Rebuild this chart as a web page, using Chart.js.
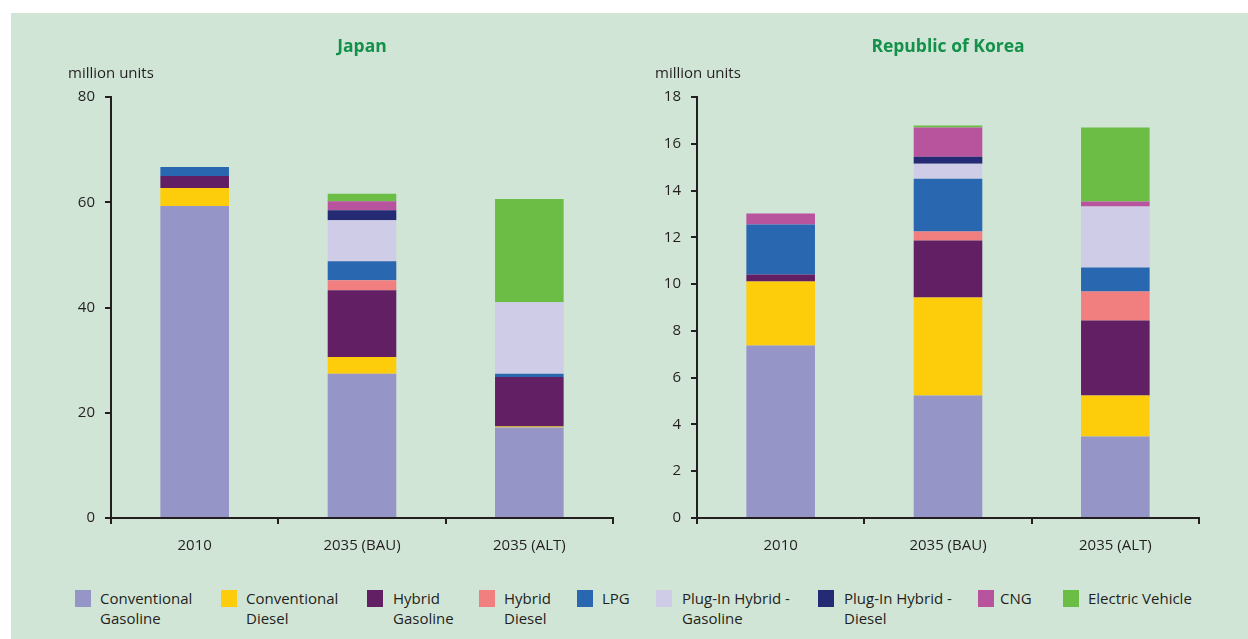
<!DOCTYPE html>
<html>
<head>
<meta charset="utf-8">
<script src="https://cdn.jsdelivr.net/npm/chart.js@4.4.1/dist/chart.umd.min.js"></script>
<style>
  html, body { margin: 0; padding: 0; background: #ffffff; }
  body { width: 1248px; height: 639px; position: relative; overflow: hidden; font-family: 'Open Sans', sans-serif; }
  #panel { position: absolute; left: 11px; top: 13px; right: 0; bottom: 0; background: #d1e5d7; }
  canvas { position: absolute; }
  .title { position: absolute; top: 33px; font-weight: bold; font-size: 17.5px; color: #13914a; text-align: center; width: 300px; line-height: 24px; }
  .unit { position: absolute; top: 62px; font-size: 15px; color: #231f20; line-height: 20px; }
  .lg-sw { position: absolute; top: 590px; width: 16px; height: 17px; }
  .lg-tx { position: absolute; top: 588px; font-size: 15px; line-height: 20px; color: #231f20; white-space: nowrap; }
</style>
</head>
<body>
<div id="panel"></div>
<canvas id="cJapan" width="620" height="560" style="left:11px;top:13px;width:620px;height:560px"></canvas>
<canvas id="cKorea" width="605" height="560" style="left:635px;top:13px;width:605px;height:560px"></canvas>
<div class="title" style="left:212px">Japan</div>
<div class="title" style="left:798px">Republic of Korea</div>
<div class="unit" style="left:68px">million units</div>
<div class="unit" style="left:655px">million units</div>
<div id="legend"></div>
<script>
// ---- Data ----
const categories = ['2010', '2035 (BAU)', '2035 (ALT)'];
const seriesNames = ['Conventional\nGasoline', 'Conventional\nDiesel', 'Hybrid\nGasoline', 'Hybrid\nDiesel', 'LPG', 'Plug-In Hybrid -\nGasoline', 'Plug-In Hybrid -\nDiesel', 'CNG', 'Electric Vehicle'];
const seriesColors = ['#9595c8', '#fdcc0a', '#621f63', '#f27f80', '#2a67b1', '#cecce7', '#252a74', '#b8539d', '#6cbd45'];

// Japan (million units)
const japanConvGasoline = [59.3, 27.4, 17.2];
const japanConvDiesel   = [3.4, 3.2, 0.2];
const japanHybridGas    = [2.3, 12.7, 9.4];
const japanHybridDiesel = [0, 1.9, 0];
const japanLPG          = [1.7, 3.6, 0.6];
const japanPHEVGas      = [0, 7.8, 13.6];
const japanPHEVDiesel   = [0, 1.9, 0];
const japanCNG          = [0, 1.7, 0];
const japanEV           = [0, 1.4, 19.6];

// Republic of Korea (million units)
const koreaConvGasoline = [7.37, 5.24, 3.48];
const koreaConvDiesel   = [2.74, 4.19, 1.76];
const koreaHybridGas    = [0.30, 2.43, 3.20];
const koreaHybridDiesel = [0, 0.39, 1.24];
const koreaLPG          = [2.14, 2.26, 1.03];
const koreaPHEVGas      = [0, 0.64, 2.61];
const koreaPHEVDiesel   = [0, 0.30, 0];
const koreaCNG          = [0.47, 1.25, 0.21];
const koreaEV           = [0, 0.08, 3.17];

const japanTicks = [0, 20, 40, 60, 80];
const koreaTicks = [0, 2, 4, 6, 8, 10, 12, 14, 16, 18];

const japanSeries = [japanConvGasoline, japanConvDiesel, japanHybridGas, japanHybridDiesel, japanLPG, japanPHEVGas, japanPHEVDiesel, japanCNG, japanEV];
const koreaSeries = [koreaConvGasoline, koreaConvDiesel, koreaHybridGas, koreaHybridDiesel, koreaLPG, koreaPHEVGas, koreaPHEVDiesel, koreaCNG, koreaEV];

// ---- Legend (HTML text) ----
const legendSwatchX = [75, 221, 367, 479, 577, 656, 818, 978, 1063];
const legendTextX   = [100, 246, 393, 504, 602, 682, 844, 1000, 1088];
const lg = document.getElementById('legend');
seriesNames.forEach((name, i) => {
  const sw = document.createElement('div');
  sw.className = 'lg-sw';
  sw.style.left = legendSwatchX[i] + 'px';
  sw.style.background = seriesColors[i];
  lg.appendChild(sw);
  const tx = document.createElement('div');
  tx.className = 'lg-tx';
  tx.style.left = legendTextX[i] + 'px';
  tx.innerHTML = name.split('\n').join('<br>');
  lg.appendChild(tx);
});

// ---- Charts ----
const axisColor = '#231f20';
const fontSpec = { family: "'Open Sans', sans-serif", size: 15 };

function makeChart(id, series, maxY, step, tickList, yWidth, padRight) {
  return new Chart(document.getElementById(id), {
    type: 'bar',
    data: {
      labels: categories,
      datasets: series.map((d, i) => ({
        label: seriesNames[i].replace('\n', ' '),
        data: d,
        backgroundColor: seriesColors[i],
        borderWidth: 0,
        barPercentage: 0.41,
        categoryPercentage: 1.0
      }))
    },
    options: {
      responsive: false,
      animation: false,
      layout: { padding: { top: 84, right: padRight, bottom: 15, left: 0 } },
      plugins: { legend: { display: false }, tooltip: { enabled: false }, title: { display: false } },
      scales: {
        x: {
          stacked: true,
          border: { display: true, color: axisColor, width: 2 },
          grid: { display: true, drawOnChartArea: false, drawTicks: true, tickLength: 6, color: axisColor, lineWidth: 2, offset: true },
          ticks: { color: '#231f20', font: fontSpec, padding: 13, maxRotation: 0 },
          afterFit: (s) => { s.height = 40; }
        },
        y: {
          stacked: true,
          min: 0, max: maxY,
          afterBuildTicks: (s) => { s.ticks = tickList.map(v => ({ value: v })); },
          border: { display: true, color: axisColor, width: 2 },
          grid: { display: true, drawOnChartArea: false, drawTicks: true, tickLength: 6, color: axisColor, lineWidth: 2 },
          ticks: { color: '#231f20', font: fontSpec, padding: 10, stepSize: step },
          afterFit: (s) => { s.width = yWidth; }
        }
      }
    }
  });
}

makeChart('cJapan', japanSeries, 80, 20, japanTicks, 100, 18);
makeChart('cKorea', koreaSeries, 18, 2, koreaTicks, 62, 41);
</script>
</body>
</html>
